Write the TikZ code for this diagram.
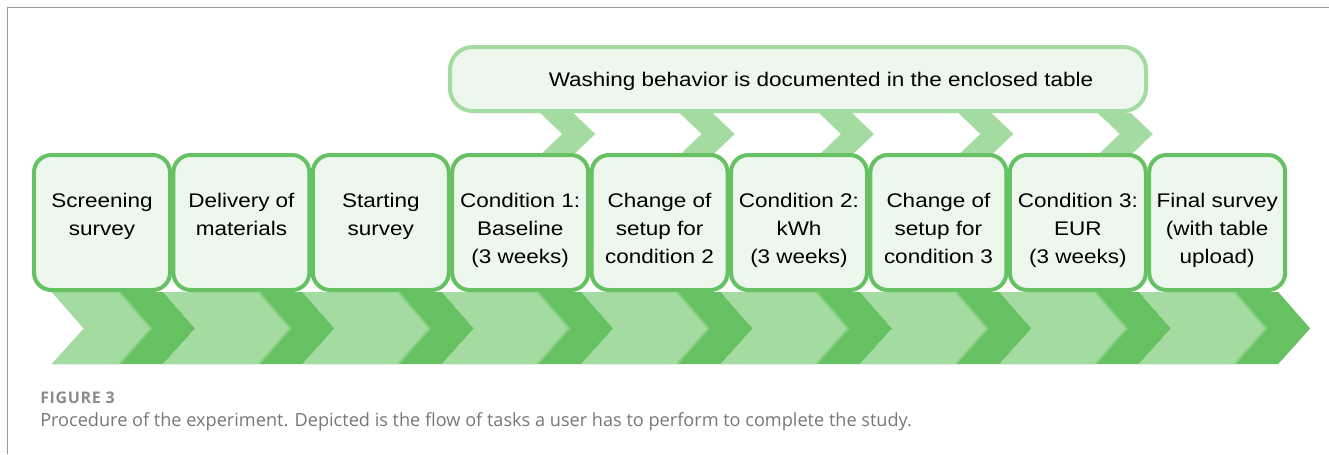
\documentclass[tikz,border=0pt]{standalone}
\usepackage{fontspec}
\setmainfont{Liberation Sans}[FakeStretch=1.14]
\newfontfamily\capfont{Open Sans}
\usepackage{tikz}
\usetikzlibrary{positioning, backgrounds}

\definecolor{chevdark}{HTML}{66C163}
\definecolor{chevlight}{HTML}{A4DBA0}
\definecolor{chevseam}{HTML}{86CF81}
\definecolor{boxfill}{HTML}{EEF7EE}
\definecolor{capgray}{HTML}{777777}
\definecolor{framegray}{HTML}{9A9A9A}

\begin{document}
\begin{tikzpicture}[
  x=0.75pt, y=0.75pt,
  node distance=2.55pt,
  task/.style={draw=chevdark, line width=3pt, rounded corners=13pt, fill=boxfill,
               minimum width=102pt, minimum height=101.25pt, inner sep=0pt, outer sep=0pt,
               align=center, font=\fontsize{14.8pt}{21pt}\selectfont},
  % keep the first line of every box at the same height
  twoline/.style={text height=40pt, text depth=21.25pt},
  threeline/.style={text height=70pt, text depth=9.25pt},
  note/.style={draw=chevlight, line width=3pt, rounded corners=17pt, fill=boxfill,
               minimum width=522pt, minimum height=48pt, inner sep=0pt, outer sep=0pt},
  notetext/.style={anchor=base, inner sep=0pt, font=\fontsize{14.8pt}{21pt}\selectfont},
  lightchev/.style={fill=chevlight},
  darkchev/.style={fill=chevdark},
  seam/.style={draw=chevseam, line width=1.5pt},
  frame/.style={draw=framegray, line width=1.1pt},
  figno/.style={anchor=base west, inner sep=0pt, text=capgray!85,
                font=\capfont\bfseries\addfontfeature{LetterSpace=4}\fontsize{12pt}{13pt}\selectfont},
  figcap/.style={anchor=base west, inner sep=0pt, text=capgray,
                 font=\capfont\fontsize{13.6pt}{15pt}\selectfont},
]
\useasboundingbox (0,0) rectangle (1329,-454);

% Frame
\draw[frame] (7.5,-454) -- (7.5,-7.5) -- (1329,-7.5);

% Tasks
\node[task, twoline, anchor=north west] (screen) at (34,-155) {Screening\\survey};
\node[task, twoline, right=of screen] (deliv) {Delivery of\\materials};
\node[task, twoline, right=of deliv] (start) {Starting\\survey};
\node[task, threeline, right=of start] (cond1) {Condition 1:\\Baseline\\(3 weeks)};
\node[task, threeline, right=of cond1] (change2) {Change of\\setup for\\condition 2};
\node[task, threeline, right=of change2] (cond2) {Condition 2:\\kWh\\(3 weeks)};
\node[task, threeline, right=of cond2] (change3) {Change of\\setup for\\condition 3};
\node[task, threeline, right=of change3] (cond3) {Condition 3:\\EUR\\(3 weeks)};
\node[task, threeline, right=of cond3] (final) {Final survey\\(with table\\upload)};

% Table note
\node[note, anchor=north west] (note) at (450,-47) {};
\node[notetext] (notelbl) at ([shift={(23,-7.5)}]note.center)
  {Washing behavior is documented in the enclosed table};

% Chevrons behind the boxes
\begin{scope}[on background layer]
\foreach \b/\s in {screen/18, deliv/-10, start/-10, cond1/-10, change2/-10,
                   cond2/-10, change3/-10, cond3/-10, final/-10} {
  \fill[darkchev] ([shift={(\s,-2)}]\b.south west) -- ([shift={(129,-2)}]\b.south west)
    -- ([shift={(161,-38.5)}]\b.south west) -- ([shift={(129,-74)}]\b.south west)
    -- ([shift={(\s,-74)}]\b.south west) -- ([shift={(\s+32,-38.5)}]\b.south west) -- cycle;
  \fill[lightchev] ([shift={(\s,-2)}]\b.south west) -- ([shift={(86,-2)}]\b.south west)
    -- ([shift={(118,-38.5)}]\b.south west) -- ([shift={(86,-74)}]\b.south west)
    -- ([shift={(\s,-74)}]\b.south west) -- ([shift={(\s+32,-38.5)}]\b.south west) -- cycle;
  \draw[seam] ([shift={(86,-2.5)}]\b.south west) -- ([shift={(117,-38.5)}]\b.south west)
    -- ([shift={(86,-73.5)}]\b.south west);
}
\foreach \b in {cond1, change2, cond2, change3, cond3} {
  \fill[lightchev] ([shift={(88,0)}]\b.north west) -- ([shift={(121,0)}]\b.north west)
    -- ([shift={(143,21)}]\b.north west) -- ([shift={(121,42)}]\b.north west)
    -- ([shift={(88,42)}]\b.north west) -- ([shift={(110,21)}]\b.north west) -- cycle;
}
\end{scope}

% Caption
\node[figno] (fignum) at (40,-403) {FIGURE 3};
\node[figcap] (figtext) at (40,-426.5)
  {Procedure of the experiment. Depicted is the flow of tasks a user has to perform to complete the study.};

\end{tikzpicture}
\end{document}
